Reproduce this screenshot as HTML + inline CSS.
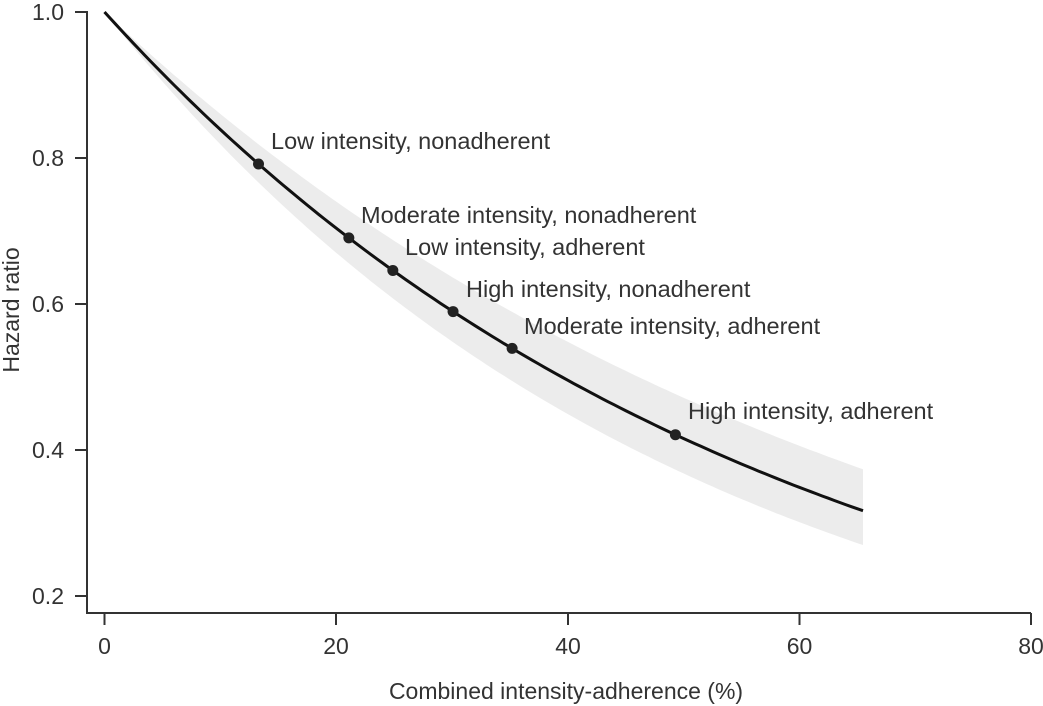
<!DOCTYPE html>
<html><head><meta charset="utf-8"><style>
html,body{margin:0;padding:0;background:#fff;}
svg{display:block;font-family:"Liberation Sans",Arial,sans-serif;}
</style></head><body>
<svg id="s" width="1043" height="706" viewBox="0 0 1043 706" xmlns="http://www.w3.org/2000/svg">
<path id="band" fill="#ececec" stroke="none"/>
<path id="curve" fill="none" stroke="#111" stroke-width="3"/>
<g stroke="#333" stroke-width="2" fill="none">
<path d="M87 11 V613 H1031"/>
<path d="M75 12H87M75 158H87M75 304H87M75 450H87M75 596H87"/>
<path d="M104.5 613V625M336 613V625M568 613V625M799.5 613V625M1031 613V625"/>
</g>
<g fill="#333" font-size="23" text-anchor="end">
<text x="64" y="20">1.0</text><text x="64" y="166">0.8</text><text x="64" y="312">0.6</text><text x="64" y="458">0.4</text><text x="64" y="604">0.2</text>
</g>
<g fill="#333" font-size="23" text-anchor="middle">
<text x="104.5" y="654">0</text><text x="336" y="654">20</text><text x="568" y="654">40</text><text x="799.5" y="654">60</text><text x="1031" y="654">80</text>
<text x="566" y="699">Combined intensity-adherence (%)</text>
<text transform="translate(19 310) rotate(-90)">Hazard ratio</text>
</g>
<g id="pts" fill="#222"></g>
<g fill="#333" font-size="23.5">
<text x="271" y="149">Low intensity, nonadherent</text>
<text x="361" y="223">Moderate intensity, nonadherent</text>
<text x="405" y="255">Low intensity, adherent</text>
<text x="466" y="297">High intensity, nonadherent</text>
<text x="524" y="334">Moderate intensity, adherent</text>
<text x="688" y="419">High intensity, adherent</text>
</g>
</svg>
<script>
var px=function(x){return 104.5+x*11.58},py=function(y){return 12+(1-y)*730};
var k=0.01755,ku=0.01503,kl=0.0200;
var c="",u=[],l=[];
for(var x=0;x<=65.8001;x+=0.5){
 c+=(x==0?"M":"L")+px(x).toFixed(1)+" "+py(Math.exp(-k*x)).toFixed(1);
 u.push(px(x).toFixed(1)+" "+py(Math.exp(-ku*x)).toFixed(1));
 l.push(px(x).toFixed(1)+" "+py(Math.exp(-kl*x)).toFixed(1));
}
document.getElementById("curve").setAttribute("d",c);
document.getElementById("band").setAttribute("d","M"+u.join("L")+"L"+l.reverse().join("L")+"Z");
var g=document.getElementById("pts"),ns="http://www.w3.org/2000/svg";
[13.3,21.1,24.9,30.1,35.2,49.3].forEach(function(x){
 var e=document.createElementNS(ns,"circle");
 e.setAttribute("cx",px(x));e.setAttribute("cy",py(Math.exp(-k*x)));e.setAttribute("r",5.5);
 g.appendChild(e);
});
</script>
</body></html>
